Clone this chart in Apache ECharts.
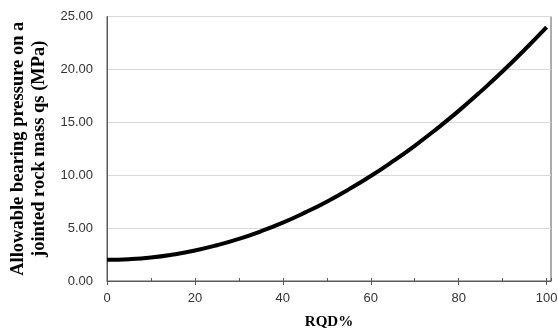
<!DOCTYPE html>
<html>
<head>
<meta charset="utf-8">
<script src="https://cdn.jsdelivr.net/npm/echarts@6/dist/echarts.min.js"></script>
<style>
  html, body { margin: 0; padding: 0; background: #fff; }
  #main { width: 558px; height: 329px; }
</style>
</head>
<body>
<div id="main"></div>
<script>
// RQD (%) and allowable bearing pressure qs (MPa)
var rqd = [0, 5, 10, 15, 20, 25, 30, 35, 40, 45, 50, 55, 60, 65, 70, 75, 80, 85, 90, 95, 100];
var qs = [2.00, 2.06, 2.22, 2.50, 2.88, 3.38, 3.98, 4.70, 5.52, 6.46, 7.50, 8.66, 9.92, 11.30, 12.78, 14.38, 16.08, 17.90, 19.82, 21.86, 24.00];

var points = rqd.map(function (x, i) { return [x, qs[i]]; });

var labelFont = 'Liberation Sans';
var titleFont = 'Liberation Serif';

var myChart = echarts.init(document.getElementById('main'));
myChart.setOption({
    animation: false,
    grid: {left: 107, right: 7, top: 16.5, bottom: 48, show: true, borderColor: '#595959', borderWidth: 1,
        outerBoundsMode: 'none'},
    xAxis: [
        {
            type: 'value', min: 0, max: 101, interval: 20,
            name: 'RQD%', nameLocation: 'middle', nameGap: 34,
            nameTextStyle: {fontFamily: titleFont, fontWeight: 'bold', fontSize: 15, color: '#000'},
            axisLine: {show: true, lineStyle: {color: '#595959'}},
            axisTick: {show: true, length: 4, lineStyle: {color: '#595959'}},
            axisLabel: {fontFamily: labelFont, fontSize: 13, color: '#333', margin: 11, showMaxLabel: false,
                formatter: function (v) { return v > 100 ? '' : String(v); }},
            splitLine: {show: false}
        },
        {
            // inner minor ticks
            type: 'value', min: 0, max: 101, interval: 10, position: 'bottom',
            axisLine: {show: false},
            axisTick: {show: true, inside: true, length: 3, lineStyle: {color: '#595959'}},
            axisLabel: {show: false},
            splitLine: {show: false}
        }
    ],
    yAxis: {
        type: 'value', min: 0, max: 25, interval: 5,
        name: 'Allowable bearing pressure on a\njointed rock mass qs (MPa)',
        nameLocation: 'middle', nameGap: 54,
        nameTextStyle: {fontFamily: titleFont, fontWeight: 'bold', fontSize: 18.5, lineHeight: 21, color: '#000'},
        axisLine: {show: true, lineStyle: {color: '#595959'}},
        axisTick: {show: false},
        axisLabel: {fontFamily: labelFont, fontSize: 13, color: '#333', margin: 14,
            formatter: function (v) { return v.toFixed(2); }},
        splitLine: {show: true, lineStyle: {color: '#d9d9d9', width: 1}}
    },
    series: [{
        type: 'line',
        data: points,
        smooth: true,
        showSymbol: false,
        lineStyle: {color: '#000', width: 4}
    }]
});
</script>
</body>
</html>
